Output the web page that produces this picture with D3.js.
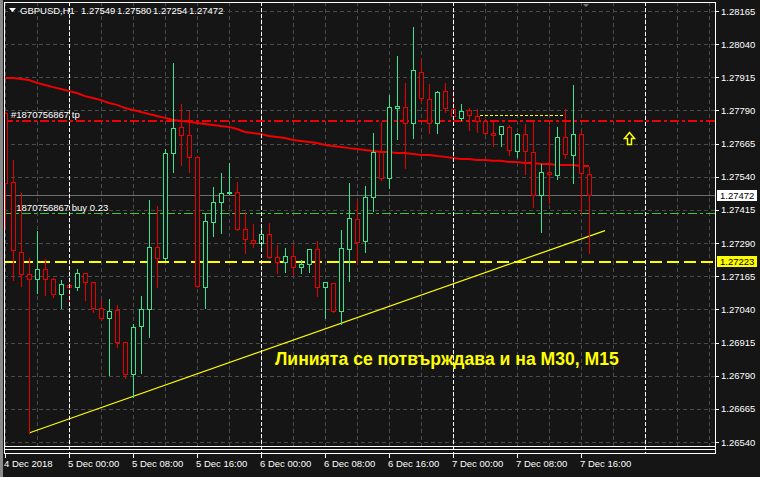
<!DOCTYPE html>
<html>
<head>
<meta charset="utf-8">
<script src="https://cdn.jsdelivr.net/npm/d3@7"></script>
<style>
  html, body { margin: 0; padding: 0; background: #151515; }
  svg { display: block; }
  text { font-family: "Liberation Sans", Arial, sans-serif; }
</style>
</head>
<body>
<svg id="chart" width="760" height="477"></svg>
<script>
// GBPUSD H1, 4 Dec 16:00 .. 7 Dec 17:00
const symbol = "GBPUSD,H1";

const open = [1.27780, 1.27520, 1.27256, 1.27173, 1.27155, 1.27192, 1.27155, 1.27098, 1.27132, 1.27124,
  1.27177, 1.27143, 1.27045, 1.27008, 1.27038, 1.26917, 1.26796, 1.26977, 1.27042, 1.27275,
  1.27234, 1.27630, 1.27728, 1.27697, 1.27615, 1.27124, 1.27370, 1.27445, 1.27479, 1.27483,
  1.27343, 1.27302, 1.27290, 1.27324, 1.27238, 1.27219, 1.27241, 1.27200, 1.27211, 1.27268,
  1.27124, 1.27140, 1.27034, 1.27268, 1.27381, 1.27298, 1.27464, 1.27633, 1.27535, 1.27799,
  1.27803, 1.27743, 1.27935, 1.27833, 1.27743, 1.27863, 1.27795, 1.27762, 1.27792, 1.27769,
  1.27750, 1.27705, 1.27701, 1.27728, 1.27637, 1.27701, 1.27633, 1.27471, 1.27558, 1.27547,
  1.27690, 1.27622, 1.27701, 1.27549];

const high = [1.27788, 1.27607, 1.27483, 1.27238, 1.27339, 1.27234, 1.27162, 1.27155, 1.27143, 1.27196,
  1.27181, 1.27147, 1.27083, 1.27083, 1.27060, 1.26921, 1.26989, 1.27094, 1.27456, 1.27434,
  1.27648, 1.27973, 1.27818, 1.27792, 1.27622, 1.27403, 1.27505, 1.27558, 1.27596, 1.27524,
  1.27411, 1.27366, 1.27366, 1.27370, 1.27287, 1.27275, 1.27290, 1.27230, 1.27271, 1.27302,
  1.27147, 1.27143, 1.27343, 1.27520, 1.27456, 1.27509, 1.27709, 1.27750, 1.27852, 1.27999,
  1.27897, 1.28108, 1.27988, 1.27894, 1.27867, 1.27897, 1.27886, 1.27818, 1.27803, 1.27799,
  1.27762, 1.27754, 1.27735, 1.27739, 1.27709, 1.27743, 1.27758, 1.27592, 1.27735, 1.27731,
  1.27799, 1.27890, 1.27720, 1.27580];

const low = [1.27347, 1.27151, 1.27128, 1.26574, 1.27102, 1.27094, 1.27087, 1.27045, 1.27057, 1.27113,
  1.27075, 1.27030, 1.27005, 1.26793, 1.26898, 1.26781, 1.26710, 1.26800, 1.26936, 1.27124,
  1.27226, 1.27558, 1.27584, 1.27558, 1.27124, 1.27045, 1.27317, 1.27328, 1.27475, 1.27340,
  1.27253, 1.27275, 1.27275, 1.27235, 1.27177, 1.27181, 1.27170, 1.27177, 1.27181, 1.27090,
  1.27008, 1.27031, 1.26985, 1.27147, 1.27219, 1.27256, 1.27411, 1.27528, 1.27498, 1.27682,
  1.27573, 1.27686, 1.27822, 1.27705, 1.27705, 1.27784, 1.27743, 1.27754, 1.27716, 1.27709,
  1.27702, 1.27656, 1.27656, 1.27622, 1.27615, 1.27550, 1.27426, 1.27332, 1.27441, 1.27532,
  1.27611, 1.27517, 1.27403, 1.27254];

const close = [1.27517, 1.27264, 1.27173, 1.27155, 1.27192, 1.27155, 1.27098, 1.27136, 1.27124, 1.27177,
  1.27143, 1.27045, 1.27008, 1.27034, 1.26917, 1.26796, 1.26974, 1.27042, 1.27275, 1.27234,
  1.27630, 1.27724, 1.27697, 1.27615, 1.27128, 1.27373, 1.27445, 1.27479, 1.27483, 1.27343,
  1.27305, 1.27290, 1.27324, 1.27238, 1.27219, 1.27241, 1.27200, 1.27211, 1.27268, 1.27124,
  1.27143, 1.27034, 1.27271, 1.27385, 1.27294, 1.27464, 1.27633, 1.27535, 1.27803, 1.27807,
  1.27743, 1.27943, 1.27837, 1.27743, 1.27860, 1.27799, 1.27769, 1.27788, 1.27773, 1.27750,
  1.27705, 1.27697, 1.27731, 1.27641, 1.27701, 1.27637, 1.27471, 1.27558, 1.27550, 1.27690,
  1.27626, 1.27701, 1.27554, 1.27472];

// moving average (red)
const ma = [1.27912, 1.27912, 1.27909, 1.27905, 1.27894, 1.27886, 1.27878, 1.27871, 1.27863, 1.27856,
  1.27844, 1.27837, 1.27829, 1.27818, 1.27811, 1.27799, 1.27792, 1.27784, 1.27777, 1.27769,
  1.27762, 1.27754, 1.27750, 1.27747, 1.27743, 1.27739, 1.27735, 1.27731, 1.27728, 1.27720,
  1.27709, 1.27705, 1.27701, 1.27694, 1.27690, 1.27686, 1.27679, 1.27675, 1.27671, 1.27667,
  1.27660, 1.27656, 1.27652, 1.27648, 1.27645, 1.27641, 1.27637, 1.27633, 1.27633, 1.27630,
  1.27630, 1.27626, 1.27622, 1.27622, 1.27618, 1.27615, 1.27611, 1.27607, 1.27607, 1.27603,
  1.27603, 1.27600, 1.27600, 1.27596, 1.27596, 1.27592, 1.27592, 1.27588, 1.27588, 1.27584,
  1.27584, 1.27584, 1.27581, 1.27581];

const priceTicks = [1.26540, 1.26665, 1.26790, 1.26915, 1.27040, 1.27165, 1.27290,
  1.27415, 1.27540, 1.27665, 1.27790, 1.27915, 1.28040, 1.28165];
const timeLabels = ["4 Dec 2018", "5 Dec 00:00", "5 Dec 08:00", "5 Dec 16:00", "6 Dec 00:00",
  "6 Dec 08:00", "6 Dec 16:00", "7 Dec 00:00", "7 Dec 08:00", "7 Dec 16:00"];
const timeBars = [0, 8, 16, 24, 32, 40, 48, 56, 64, 72];
const dayBars = [8, 32, 56, 80];

const order = "#1870756867";
const tpPrice = 1.27755, buyPrice = 1.27403, buyLots = 0.23;
const levelPrice = 1.27223;
const trend = [[3, 1.26574], [75, 1.27337]];
const shortLine = [[59.4, 1.27773], [69.8, 1.27773]];
const arrowAt = [78, 1.27709];
const note = "Линията се потвърждава и на M30, M15";
const noteAt = [33.75, 1.26879];

const width = 760, height = 477;
const plot = { left: 4, right: 715, top: 2, bottom: 446 };
const bg = "#151515", bull = "#3ae48f", bear = "#e80000";

const x = d3.scaleLinear().domain([0, 88.75]).range([5, 715]);
const y = d3.scaleLinear().domain([1.26540, 1.28165]).range([442, 11]);
const px = v => Math.round(v) + 0.5;
const fmt = d3.format(".5f");
const last = close.length - 1;

const svg = d3.select("#chart");
svg.append("rect").attr("width", width).attr("height", height).attr("fill", bg);
svg.append("rect").attr("width", 3).attr("height", height).attr("fill", "#8a8a8a");

svg.append("clipPath").attr("id", "clip")
  .append("rect")
  .attr("x", plot.left + 1).attr("y", plot.top + 1)
  .attr("width", plot.right - plot.left - 1).attr("height", plot.bottom - plot.top - 1);

const g = svg.append("g").attr("clip-path", "url(#clip)").attr("shape-rendering", "crispEdges");

// grid
g.append("g")
  .selectAll("line")
  .data(priceTicks)
  .join("line")
  .attr("x1", plot.left).attr("x2", plot.right)
  .attr("y1", d => px(y(d))).attr("y2", d => px(y(d)))
  .attr("stroke", "#4a4a4a").attr("stroke-dasharray", "4,3");

g.append("g")
  .selectAll("line")
  .data(d3.range(0, 89, 4))
  .join("line")
  .attr("x1", d => px(x(d))).attr("x2", d => px(x(d)))
  .attr("y1", plot.top).attr("y2", plot.bottom)
  .attr("stroke", "#4a4a4a").attr("stroke-dasharray", "4,3");

// trade lines + labels (under candles)
const hline = (price, color, dash, w) => g.append("line")
  .attr("x1", plot.left).attr("x2", plot.right)
  .attr("y1", px(y(price))).attr("y2", px(y(price)))
  .attr("stroke", color).attr("stroke-width", w || 1)
  .attr("stroke-dasharray", dash);

hline(tpPrice, "#f00000", "9,3,3,3", 2);
hline(buyPrice, "#3cc83c", "9,3,3,3", 1);
hline(close[last], "#6e6e6e", null, 1);
hline(levelPrice, "#ffff00", "12,5", 2);

const tradeLabel = (price, text) => svg.append("text")
  .attr("x", 11).attr("y", px(y(price)) - 3)
  .attr("fill", "#fff").attr("font-size", 9.5)
  .text(text);
tradeLabel(tpPrice, `${order} tp`);
tradeLabel(buyPrice, `${order} buy ${buyLots}`);

// moving average
g.append("path")
  .datum(ma)
  .attr("d", d3.line().x((d, i) => x(i)).y(d => y(d)))
  .attr("fill", "none").attr("stroke", "#f00000").attr("stroke-width", 2)
  .attr("shape-rendering", "auto");

// candles
const bars = d3.range(close.length).map(i => ({ i, o: open[i], h: high[i], l: low[i], c: close[i] }));
const candles = svg.append("g").attr("clip-path", "url(#clip)").attr("shape-rendering", "crispEdges")
  .selectAll("g")
  .data(bars)
  .join("g")
  .attr("stroke", d => d.c >= d.o ? bull : bear);

candles.append("line")
  .attr("x1", d => px(x(d.i))).attr("x2", d => px(x(d.i)))
  .attr("y1", d => px(y(d.h))).attr("y2", d => px(y(d.l)));

candles.append("rect")
  .attr("x", d => px(x(d.i) - 2)).attr("width", 4)
  .attr("y", d => px(y(Math.max(d.o, d.c))))
  .attr("height", d => Math.max(1, Math.round(y(Math.min(d.o, d.c))) - Math.round(y(Math.max(d.o, d.c)))))
  .attr("fill", bg);

// day separators
svg.append("g")
  .selectAll("line")
  .data(dayBars)
  .join("line")
  .attr("x1", d => px(x(d))).attr("x2", d => px(x(d)))
  .attr("y1", plot.top).attr("y2", 453)
  .attr("stroke", "#fff").attr("stroke-dasharray", "4,2")
  .attr("shape-rendering", "crispEdges");

// objects
g.append("line")
  .attr("x1", x(trend[0][0])).attr("y1", y(trend[0][1]))
  .attr("x2", x(trend[1][0])).attr("y2", y(trend[1][1]))
  .attr("stroke", "#ffff00").attr("stroke-width", 1.2)
  .attr("shape-rendering", "auto");

g.append("line")
  .attr("x1", x(shortLine[0][0])).attr("x2", x(shortLine[1][0]))
  .attr("y1", px(y(shortLine[0][1]))).attr("y2", px(y(shortLine[1][1])))
  .attr("stroke", "#ffff00").attr("stroke-dasharray", "3,2");

svg.append("path")
  .attr("transform", `translate(${px(x(arrowAt[0]))},${px(y(arrowAt[1]))})`)
  .attr("d", "M0,0 L5,6 L2,6 L2,12 L-2,12 L-2,6 L-5,6 Z")
  .attr("fill", bg).attr("stroke", "#ffff00").attr("stroke-width", 1.5);

svg.append("text")
  .attr("x", x(noteAt[0])).attr("y", y(noteAt[1]))
  .attr("dominant-baseline", "hanging")
  .attr("fill", "#ffff00").attr("font-size", 17.6).attr("font-weight", "bold")
  .text(note);

// frame
const frame = svg.append("g").attr("stroke", "#fff").attr("shape-rendering", "crispEdges");
frame.append("line").attr("x1", plot.left).attr("x2", plot.right + 1).attr("y1", 2.5).attr("y2", 2.5);
frame.append("line").attr("x1", 4.5).attr("x2", 4.5).attr("y1", 2).attr("y2", 454);
frame.append("line").attr("x1", plot.right + 0.5).attr("x2", plot.right + 0.5).attr("y1", 2).attr("y2", 454);
[446.5, 449.5, 453.5].forEach(v =>
  frame.append("line").attr("x1", plot.left).attr("x2", plot.right + 1).attr("y1", v).attr("y2", v));

// price axis
const yAxis = svg.append("g");
yAxis.selectAll("line")
  .data(priceTicks)
  .join("line")
  .attr("x1", plot.right).attr("x2", plot.right + 4)
  .attr("y1", d => px(y(d))).attr("y2", d => px(y(d)))
  .attr("stroke", "#fff").attr("shape-rendering", "crispEdges");
yAxis.selectAll("text")
  .data(priceTicks)
  .join("text")
  .attr("x", 721).attr("y", d => y(d))
  .attr("dominant-baseline", "central")
  .attr("fill", "#fff").attr("font-size", 9.5)
  .text(fmt);

const priceTag = (price, fill) => {
  const t = svg.append("g").attr("transform", `translate(0,${Math.round(y(price))})`);
  t.append("rect").attr("x", 717).attr("y", -5).attr("width", 40).attr("height", 11).attr("fill", fill);
  t.append("text").attr("x", 720).attr("y", 0.5).attr("dominant-baseline", "central")
    .attr("fill", "#000").attr("font-size", 9.5).text(fmt(price));
};
priceTag(close[last], "#fff");
priceTag(levelPrice, "#ffff00");

// time axis
const xAxis = svg.append("g");
xAxis.selectAll("line")
  .data(timeBars)
  .join("line")
  .attr("x1", d => px(x(d))).attr("x2", d => px(x(d)))
  .attr("y1", 454).attr("y2", 458)
  .attr("stroke", "#fff").attr("shape-rendering", "crispEdges");
xAxis.selectAll("text")
  .data(timeBars)
  .join("text")
  .attr("x", d => x(d) - 1).attr("y", 467)
  .attr("fill", "#fff").attr("font-size", 9.5)
  .text((d, i) => timeLabels[i]);

// header: symbol + last bar OHLC
svg.append("path").attr("d", "M9,8 L16,8 L12.5,12 Z").attr("fill", "#fff");
svg.append("path").attr("d", "M583,4 L589,4 L586,7 Z").attr("fill", "#777");
const header = svg.append("g").attr("fill", "#fff").attr("font-size", 9.5);
header.append("text").attr("x", 20).attr("y", 14).text(symbol);
header.selectAll("text.ohlc")
  .data([open[last], high[last], low[last], close[last]])
  .join("text")
  .attr("class", "ohlc")
  .attr("x", (d, i) => 81 + i * 36).attr("y", 14)
  .text(fmt);
</script>
</body>
</html>
